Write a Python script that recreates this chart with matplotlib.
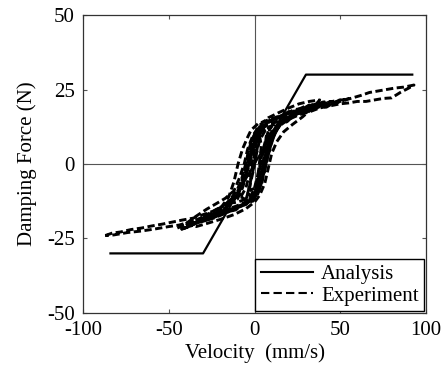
import matplotlib
matplotlib.use("Agg")
import matplotlib.pyplot as plt

# Analysis (bilinear model)
analysis_v = [-84, -30, 30, 92]
analysis_f = [-30, -30, 30, 30]

# Experiment hysteresis loops (velocity mm/s, force N)
loop1_v = [-87, -83, -78, -72, -66, -60, -54, -48, -42, -36, -30, -24, -19, -15, -12, -9.6, -7, -4, -2, 2, 8, 14, 20, 26, 32, 38, 44, 50, 56, 62, 67, 72, 77, 82, 87, 93,
           90, 85, 80, 75, 70, 65, 60, 55, 50, 44, 38, 32, 26, 20, 15, 11, 8, 6, 4, 2, 0, -3, -8, -14, -20, -26, -32, -38, -44, -50, -58, -66, -74, -82, -87]
loop1_f = [-24, -23.2, -22.8, -22, -21.5, -20.8, -20.2, -19.5, -18.8, -18.2, -17, -15.8, -14.2, -11, -6, 0, 5, 9, 11.4, 13.5, 14.8, 16, 17, 18, 19, 19.5, 20.3, 21, 22, 23, 24, 24.5, 25, 25.5, 25.8, 26.5,
           25.5, 24, 22.2, 22, 21.5, 21, 21, 20.5, 20.2, 19.5, 18.8, 17.5, 16.5, 15, 13, 10, 6, 1, -4, -8, -11, -12.5, -14, -15.5, -16.5, -17.5, -18.5, -19.5, -20.5, -21, -21.8, -22.5, -23, -23.8, -24]

loop2_v = [-45, -41, -37, -33, -29, -25, -21, -17, -13, -10, -7, -5, -3, 0, 3, 8, 13, 18, 23, 29, 35, 41, 47, 52, 55,
           51, 46, 40, 34, 28, 22, 17, 13, 10, 8, 6, 4, 1, -3, -8, -13, -19, -25, -31, -37, -42, -45]
loop2_f = [-21.5, -20.5, -20.8, -19, -18.6, -17.2, -16.2, -14.5, -12.8, -10, -5.5, 0, 5, 9.5, 12, 14.2, 15.6, 16.8, 18.2, 18.8, 20.2, 20.4, 21.2, 21.6, 22,
           21.2, 20, 19.6, 18.2, 17.4, 16.2, 14.5, 11.5, 7.5, 3, -2, -7, -10.5, -12.8, -14.2, -15.6, -16.5, -18, -19.3, -20.6, -21.8, -21.5]

loop3_v = [-40, -35, -30, -25, -20, -16, -13, -10, -8, -6, -4, -2, 1, 5, 10, 15, 20, 25, 30, 35, 40, 45,
           42, 37, 32, 27, 22, 18, 14, 11, 9, 7, 5, 3, 0, -4, -8, -13, -18, -24, -30, -35, -40]
loop3_f = [-20.5, -19, -17.8, -16.5, -15, -13, -11, -8.5, -6, -2, 3, 7.5, 11, 13, 14.5, 16, 17, 18.2, 19.5, 19.8, 20.8, 21,
           20, 19.4, 18.2, 17.5, 16.2, 15, 12.5, 9, 5, 1, -4, -8.5, -11.5, -13, -14.2, -15.5, -16.8, -18.2, -19.2, -20, -20.5]

loop4_v = [-30, -25, -20, -15, -11, -8, -6, -4, -2, 0, 3, 7, 12, 17, 22, 28, 34,
           30, 25, 20, 16, 12, 9, 7, 5, 3, 1, -2, -6, -11, -16, -22, -30]
loop4_f = [-17.5, -16.2, -14.6, -12.8, -10.5, -7, -3, 2, 6.5, 10, 12.5, 13.8, 15.2, 16.2, 17.6, 18.2, 19.2,
           17.8, 17.2, 15.8, 14.5, 12, 8.5, 4.5, 0, -4.5, -8.5, -11.5, -13, -14.2, -15.2, -16.5, -17.5]

loop5_v = [-15, -11, -8, -5, -3, -1, 1, 4, 8, 12, 16, 20,
           17, 13, 9, 6, 4, 2, 0, -2, -5, -9, -12, -15]
loop5_f = [-12.5, -10.5, -8, -4, 0, 4.5, 8.5, 10.8, 12.2, 13.5, 14.5, 15.5,
           14.8, 13, 10, 6, 1.5, -3.5, -8, -10.5, -11.8, -12.6, -13, -12.5]

loop6_v = [-8, -5, -3, -1, 0, 2, 4, 7, 10,
           8, 6, 4, 3, 2, 0, -2, -5, -8]
loop6_f = [-11, -8, -3.5, 1.5, 5, 9, 11, 12, 12.5,
           11, 7, 2.5, -2, -6, -9.5, -11.5, -12, -11]

loop7_v = [-43, -38, -33, -28, -23, -18, -14, -10, -7, -5, -3, -1, 2, 6, 11, 16, 22, 28, 34, 40, 46, 50,
           47, 42, 36, 30, 24, 19, 15, 12, 10, 8, 6, 4, 2, -1, -5, -10, -16, -22, -28, -34, -39, -43]
loop7_f = [-22, -20.8, -19.2, -18.5, -16.8, -15.6, -13.2, -11.8, -8, -4.2, 1, 6, 10.2, 12.8, 13.6, 15.8, 16.4, 18.5, 18.9, 20.6, 20.2, 21.5,
           20.8, 19.1, 19.2, 17.3, 16.8, 14.2, 13.4, 10.5, 7.8, 4.2, -1, -5.8, -9.4, -11.2, -13.6, -14.4, -16.2, -17.1, -18.9, -19.6, -21.2, -22]

loop8_v = [-22, -18, -14, -10, -7, -5, -3, -1, 1, 4, 8, 13, 18, 24, 30,
           27, 22, 17, 13, 10, 8, 6, 4, 2, 0, -3, -7, -12, -17, -22]
loop8_f = [-15.2, -14.2, -12.2, -10.8, -7.4, -3.6, 0.8, 5.2, 9.4, 11.6, 13.4, 14.2, 16.6, 16.8, 18.6,
           17.2, 16.4, 14.6, 13.2, 9.8, 6.2, 2.4, -2.6, -6.8, -10.2, -12.2, -13.6, -14.8, -15.6, -15.2]

loop9_v = [-35, -30, -25, -20, -16, -12, -9, -7, -5, -3, -1, 2, 5, 9, 14, 20, 26, 32, 38,
           35, 29, 23, 18, 14, 11, 9, 7, 5, 3, 1, -2, -6, -11, -17, -23, -29, -35]
loop9_f = [-19.8, -18.2, -17.6, -15.8, -14.4, -12.2, -9.6, -6.4, -2.2, 2.6, 7.4, 10.8, 12.6, 14.8, 15.4, 17.6, 17.8, 19.8, 20.2,
           19.4, 18.6, 16.6, 15.8, 13.2, 10.6, 6.8, 2.6, -2.2, -6.6, -9.8, -12.6, -13.4, -15.4, -16.2, -17.8, -18.4, -19.8]

loop10_v = [-40, -34, -28, -22, -17, -12, -9, -6, -4, -1, 3, 8, 14, 20, 26, 32, 38,
            34, 28, 22, 17, 13, 10, 8, 6, 3, 0, -5, -12, -20, -28, -34, -40]
loop10_f = [-20, -17.5, -15.2, -13.2, -11.5, -9, -5, 0, 5, 9.5, 13, 15.5, 17.2, 18.8, 20.2, 21, 21.5,
            18.8, 15.8, 13.2, 10.8, 7.5, 3.5, -1.5, -6.5, -10.5, -12.8, -15, -17, -18.6, -20, -21, -20]

loop11_v = [-5, -3, -1, 1, 3, 6, 9, 8, 7, 6, 4, 2, -1, -5]
loop11_f = [-12, -8, -3, 3, 8, 11, 12.5, 8, 3, -2, -6, -10, -12.5, -12]

loop12_v = [-4, -2, 0, 1.5, 3, 5, 7, 6, 5, 3.5, 1.5, -1, -4]
loop12_f = [-10, -5, 0, 5, 10, 12, 10, 5, 0, -5, -9, -11, -10]

loop13_v = [-3, -2, -0.5, 1, 2.5, 4, 3, 2, 0.5, -3]
loop13_f = [-9, -4, 2, 7, 11, 6, 1, -4, -8, -9]

exp_v_loops = [loop1_v, loop2_v, loop3_v, loop4_v, loop5_v, loop6_v, loop7_v,
               loop8_v, loop9_v, loop10_v, loop11_v, loop12_v, loop13_v]
exp_f_loops = [loop1_f, loop2_f, loop3_f, loop4_f, loop5_f, loop6_f, loop7_f,
               loop8_f, loop9_f, loop10_f, loop11_f, loop12_f, loop13_f]

x_ticks = [-100, -50, 0, 50, 100]
y_ticks = [-50, -25, 0, 25, 50]

plt.rcParams['font.family'] = ['Liberation Serif', 'DejaVu Serif']
plt.rcParams['axes.unicode_minus'] = False

fig = plt.figure(figsize=(4.43, 3.69), dpi=100)
ax = fig.add_axes([0.1874, 0.1518, 0.7742, 0.8075])

ax.axhline(0, color='#555555', lw=0.8, zorder=1)
ax.axvline(0, color='#555555', lw=0.8, zorder=1)

ax.plot(analysis_v, analysis_f, color='black', lw=1.6, label='Analysis', zorder=3)
for i, (vv, ff) in enumerate(zip(exp_v_loops, exp_f_loops)):
    ax.plot(vv, ff, color='black', lw=2.1, linestyle=(0, (2.5, 1.2)),
            label='Experiment' if i == 0 else None, zorder=2)

ax.set_xlim(-100, 100)
ax.set_ylim(-50, 50)
ax.set_xticks(x_ticks)
ax.set_yticks(y_ticks)
ax.tick_params(direction='in', length=3, width=0.8, top=True, right=True,
               labelsize=15, pad=6, color='#555555')
for s in ax.spines.values():
    s.set_linewidth(0.9)
    s.set_color('#333333')

ax.set_xlabel('Velocity  (mm/s)', fontsize=15, labelpad=2)
ax.set_ylabel('Damping Force (N)', fontsize=15, labelpad=7)

leg = ax.legend(loc='lower right', fontsize=15, frameon=True, fancybox=False,
                edgecolor='black', framealpha=1, borderpad=0.25, labelspacing=0.1,
                handlelength=2.5, handletextpad=0.4, borderaxespad=0.1)
leg.get_frame().set_linewidth(1.0)
for line in leg.get_lines():
    line.set_linewidth(1.5)
leg.get_lines()[1].set_linestyle((0, (4, 2)))

fig.savefig('out.png', dpi=100)
